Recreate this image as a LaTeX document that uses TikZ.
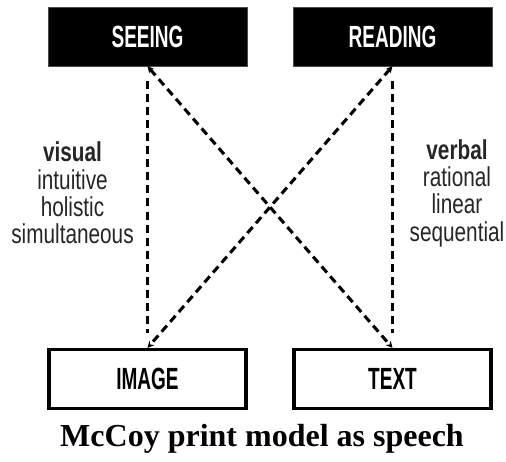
\documentclass[tikz,border=0pt]{standalone}
\usepackage{fontspec}
\setmainfont{Liberation Serif}
\newfontfamily\boxfont{Liberation Sans}
\usetikzlibrary{arrows.meta}

% condensed sans for the labels
\newcommand{\narrow}[2][0.62]{\scalebox{#1}[1]{#2}}

\tikzset{
	darkbox/.style={rectangle, fill=black, draw=black!70, line width=0.5pt, minimum width=149pt, minimum height=44pt, text=white, font=\boxfont\fontsize{23}{23}\selectfont\bfseries},
	lightbox/.style={rectangle, draw=black, line width=2.6pt, minimum width=148pt, minimum height=44pt, font=\boxfont\fontsize{23}{23}\selectfont\bfseries},
	link/.style={dashed, dash pattern=on 6pt off 3.8pt, line width=2.3pt},
	sidetext/.style={align=center, font=\boxfont\fontsize{20.5}{20.5}\selectfont, text=black!85}
}

\begin{document}
\begin{tikzpicture}[x=0.75pt, y=-0.75pt]
	\useasboundingbox (0,0) rectangle (506,461);

	\node[darkbox] (seeing) at (147.5,36.5) {\narrow{SEEING}};
	\node[darkbox] (reading) at (392.5,36.5) {\narrow{READING}};
	\node[lightbox] (image) at (147.5,379) {\narrow{IMAGE}};
	\node[lightbox] (text) at (392.5,379) {\narrow{TEXT}};

	% crossing links
	\draw[link, {Stealth[length=5pt,width=5pt]}-{Stealth[length=5pt,width=5pt]}] (seeing.south) -- (text.north);
	\draw[link, {Stealth[length=5pt,width=5pt]}-{Stealth[length=5pt,width=5pt]}] (reading.south) -- (image.north);

	% straight links
	\draw[link, shorten <=11pt, shorten >=11pt] (seeing.south) -- (image.north);
	\draw[link, shorten <=11pt, shorten >=11pt] (reading.south) -- (text.north);

	\node[sidetext] (visual) at (72.5,193) {\narrow[0.76]{\textbf{visual}}\\ \narrow[0.76]{intuitive}\\ \narrow[0.76]{holistic}\\ \narrow[0.76]{simultaneous}};
	\node[sidetext] (verbal) at (457,193) {\narrow[0.76]{\textbf{verbal}}\\ \narrow[0.76]{rational}\\ \narrow[0.76]{linear}\\ \narrow[0.76]{sequential}};

	\node[font=\fontsize{24}{24}\selectfont\bfseries] (caption) at (262,439) {McCoy print model as speech};
\end{tikzpicture}
\end{document}
